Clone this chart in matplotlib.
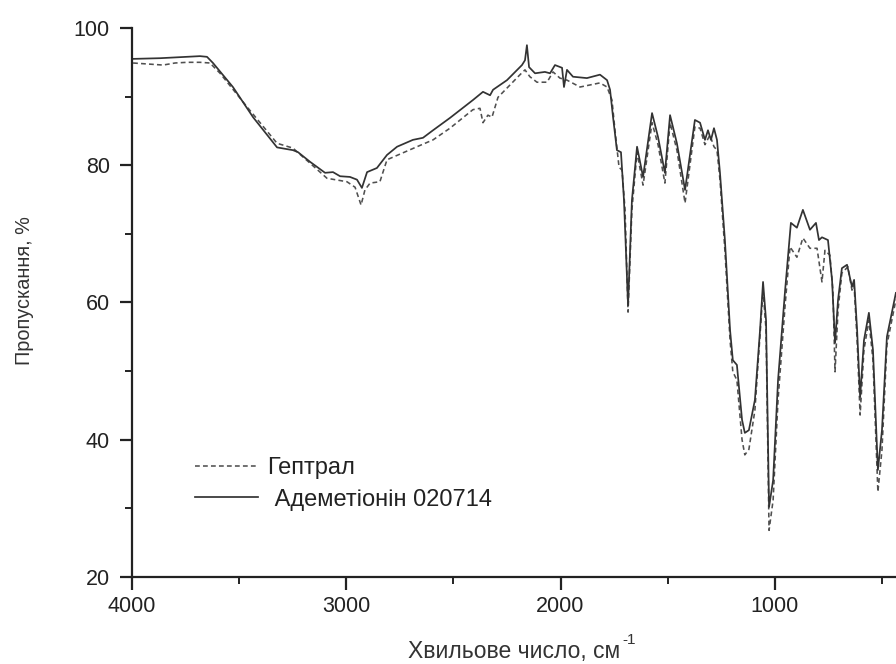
import matplotlib
matplotlib.use("Agg")
import matplotlib.pyplot as plt
from matplotlib.ticker import MultipleLocator

plt.rcParams['font.family'] = ['Liberation Sans', 'DejaVu Sans']

# Адеметіонін 020714 (solid)
wn_adem = [3995, 3869, 3683, 3650, 3622, 3529, 3435, 3323, 3249, 3225, 3169, 3099, 3062, 3029,
           2983, 2950, 2927, 2903, 2857, 2810, 2763, 2689, 2642, 2595, 2516, 2409, 2362, 2329,
           2315, 2250, 2180, 2166, 2157, 2147, 2119, 2073, 2049, 2026, 1993, 1984, 1970, 1942,
           1877, 1816, 1783, 1769, 1755, 1737, 1718, 1704, 1685, 1667, 1643, 1615, 1573, 1545,
           1513, 1489, 1457, 1419, 1373, 1349, 1326, 1312, 1298, 1284, 1270, 1256, 1233, 1209,
           1196, 1177, 1153, 1140, 1121, 1093, 1069, 1055, 1041, 1027, 1008, 985, 952, 925,
           897, 869, 836, 808, 794, 780, 752, 733, 719, 705, 687, 663, 640, 630, 616, 602,
           584, 561, 542, 519, 500, 477, 435]
t_adem = [95.5, 95.6, 95.9, 95.8, 94.9, 91.4, 87.0, 82.6, 82.2, 81.9, 80.5, 78.9, 79.0, 78.4,
          78.3, 77.9, 76.7, 79.0, 79.6, 81.5, 82.7, 83.7, 84.0, 85.1, 86.9, 89.5, 90.7, 90.2,
          91.0, 92.4, 94.6, 95.3, 97.5, 94.3, 93.4, 93.6, 93.4, 94.6, 94.2, 91.4, 93.9, 92.9,
          92.7, 93.2, 92.4, 91.0, 87.0, 82.2, 81.9, 74.9, 59.6, 74.9, 82.7, 78.3, 87.6, 84.1,
          78.9, 87.3, 83.2, 76.4, 86.6, 86.2, 83.7, 85.1, 83.7, 85.4, 83.7, 78.9, 69.1, 56.0,
          51.6, 50.9, 42.9, 41.0, 41.4, 45.8, 56.0, 63.0, 57.4, 30.2, 34.1, 48.7, 61.8, 71.6,
          70.9, 73.5, 70.6, 71.6, 69.1, 69.5, 69.1, 63.3, 54.1, 60.4, 65.0, 65.5, 62.3, 63.3, 56.0, 46.2,
          54.5, 58.5, 53.1, 35.6, 41.4, 55.0, 61.4]

# Гептрал (dashed)
wn_hept = [3995, 3855, 3799, 3743, 3683, 3636, 3589, 3463, 3323, 3249, 3169, 3090, 2997, 2959,
           2931, 2913, 2889, 2843, 2810, 2670, 2595, 2516, 2409, 2376, 2362, 2339, 2320, 2292,
           2189, 2166, 2143, 2110, 2063, 2035, 2003, 1970, 1909, 1816, 1783, 1760, 1746, 1727,
           1713, 1699, 1685, 1667, 1643, 1615, 1573, 1545, 1513, 1489, 1457, 1419, 1373, 1349,
           1326, 1303, 1284, 1270, 1256, 1233, 1209, 1196, 1177, 1153, 1140, 1121, 1093, 1069,
           1055, 1041, 1027, 1008, 985, 952, 929, 897, 869, 836, 803, 780, 766, 743, 729, 719,
           705, 687, 659, 640, 630, 616, 602, 584, 561, 542, 519, 500, 477, 435]
t_hept = [94.9, 94.6, 94.9, 95.0, 95.0, 94.9, 93.4, 88.5, 83.2, 82.5, 80.3, 78.1, 77.6, 76.8,
          74.2, 76.4, 77.4, 77.6, 80.8, 82.7, 83.7, 85.4, 88.1, 88.3, 86.2, 87.3, 87.0, 89.9,
          93.2, 93.9, 92.9, 92.1, 92.1, 93.6, 92.7, 92.4, 91.4, 92.0, 91.4, 89.5, 85.1, 79.7,
          79.3, 73.5, 58.6, 73.5, 81.9, 77.1, 86.2, 83.0, 77.4, 86.2, 82.2, 74.5, 85.6, 85.4,
          83.0, 84.4, 82.7, 82.2, 77.9, 67.6, 54.5, 49.9, 48.7, 40.0, 37.8, 38.6, 44.3, 55.3,
          61.8, 56.0, 26.8, 31.2, 45.8, 59.6, 68.1, 66.6, 69.4, 67.9, 67.9, 63.0, 67.6, 66.9, 61.8, 49.9,
          58.9, 64.3, 65.2, 61.8, 62.5, 54.5, 43.6, 53.1, 57.4, 51.6, 32.4, 38.5, 53.8, 60.4]

labels = ['Гептрал', ' Адеметіонін 020714']
x_ticks = [4000, 3000, 2000, 1000]
y_ticks = [20, 40, 60, 80, 100]

fig = plt.figure(figsize=(8.96, 6.64), dpi=100)
ax = fig.add_axes([132/896, 87/664, 1 - 132/896, (577-28)/664])

ax.plot(wn_hept, t_hept, linestyle=(0, (3, 2)), color='#505050', linewidth=1.15, label=labels[0])
ax.plot(wn_adem, t_adem, linestyle='-', color='#333333', linewidth=1.25, label=labels[1])

ax.set_xlim(4000, 434.5)
ax.set_ylim(20, 100)
ax.set_xticks(x_ticks)
ax.set_yticks(y_ticks)
ax.xaxis.set_minor_locator(MultipleLocator(500))
ax.yaxis.set_minor_locator(MultipleLocator(10))

for s in ['top', 'right']:
    ax.spines[s].set_visible(False)
for s in ['left', 'bottom']:
    ax.spines[s].set_linewidth(1.6)
    ax.spines[s].set_color('#222222')

ax.tick_params(which='major', direction='out', length=9, width=1.6, labelsize=15.5,
               colors='#222222')
ax.tick_params(which='minor', direction='out', length=5, width=1.4, colors='#222222')
ax.tick_params(axis='y', which='major', pad=7)
ax.tick_params(axis='x', which='major', pad=5)

ax.set_xlabel('Хвильове число, см', fontsize=16.5, color='#333333', labelpad=16)
ax.set_ylabel('Пропускання, %', fontsize=14.3, color='#333333')
ax.yaxis.set_label_coords(-0.128, 0.521)

leg = ax.legend(loc='upper left', bbox_to_anchor=(0.0825, 0.219), frameon=False,
                fontsize=17, handlelength=2.65, handletextpad=0.42, labelspacing=0.42,
                borderpad=0, borderaxespad=0)
for t in leg.get_texts():
    t.set_color('#222222')

fig.canvas.draw()
bb = ax.xaxis.label.get_window_extent()
fig.text((bb.x1 + 2) / 896, (bb.y1 + 7) / 664, '-1', fontsize=11, color='#333333',
         ha='left', va='top')

fig.savefig('out.png', dpi=100)
